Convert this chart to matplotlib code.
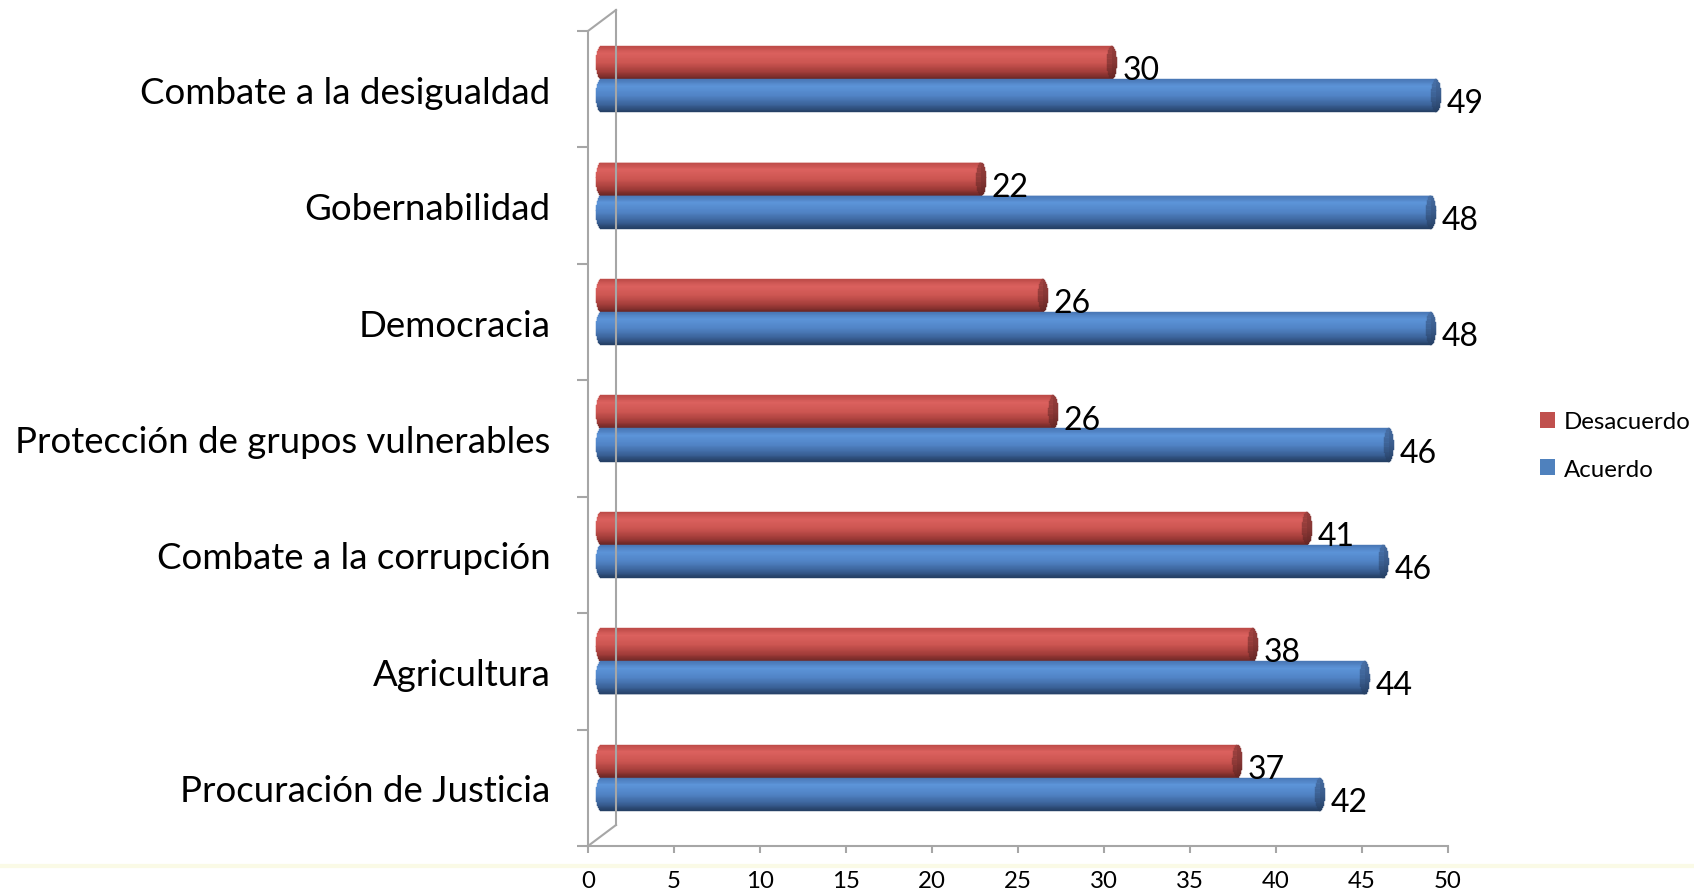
import numpy as np
import matplotlib
matplotlib.use("Agg")
import matplotlib.pyplot as plt
from matplotlib.transforms import ScaledTranslation, IdentityTransform
from matplotlib.patches import Patch
from matplotlib.lines import Line2D

plt.rcParams['font.family'] = ['Lato', 'DejaVu Sans']

# ---------------- data ----------------
categories = ["Procuración de Justicia", "Agricultura", "Combate a la corrupción",
              "Protección de grupos vulnerables", "Democracia", "Gobernabilidad",
              "Combate a la desigualdad"]
desacuerdo = [37.0, 37.9, 41.05, 26.3, 25.7, 22.1, 29.7]
acuerdo = [41.8, 44.4, 45.5, 45.8, 48.25, 48.25, 48.55]
series_names = ["Desacuerdo", "Acuerdo"]
x_ticks = [0, 5, 10, 15, 20, 25, 30, 35, 40, 45, 50]

# ---------------- style ----------------
W, H, DPI = 1694, 895, 100
legend_colors = ["#C0504D", "#4F81BD"]
red_stops = [(0.0, (188, 74, 71)), (0.22, (220, 98, 95)), (0.5, (205, 86, 82)),
             (0.8, (160, 60, 57)), (1.0, (105, 38, 36))]
blue_stops = [(0.0, (72, 118, 180)), (0.22, (93, 149, 217)), (0.5, (82, 132, 198)),
              (0.8, (58, 96, 150)), (1.0, (36, 62, 98))]
red_cap = [(0.0, (150, 62, 60)), (0.5, (135, 55, 53)), (1.0, (100, 38, 36))]
blue_cap = [(0.0, (70, 108, 160)), (0.5, (58, 92, 140)), (1.0, (38, 64, 100))]
grey = "#A6A6A6"


def grad(stops, t):
    ts = [s[0] for s in stops]
    col = [np.interp(t, ts, [s[1][k] for s in stops]) / 255 for k in range(3)]
    return tuple(col)


fig = plt.figure(figsize=(W / DPI, H / DPI), dpi=DPI)
ax = fig.add_axes([588 / W, 1 - 847 / H, (1448 - 588) / W, (847 - 32) / H])
ax.set_xlim(0, 50)
ax.set_ylim(-0.5, 6.5)
ax.set_autoscale_on(False)

px_x = (1448 - 588) / 50.0
px_y = (847 - 32) / 7.0
h = 33 / px_y
a = 5 / px_x  # semi-axis of the cylinder end ellipse in data units
shift = ScaledTranslation(13 / DPI, 10 / DPI, fig.dpi_scale_trans)
trans = ax.transData + shift

ypos = np.arange(len(categories))
N = 40
for vals, off, stops, cstops in [(desacuerdo, h / 2, red_stops, red_cap),
                                 (acuerdo, -h / 2, blue_stops, blue_cap)]:
    vals = np.asarray(vals, float)
    for i in range(N):
        t = (i + 0.5) / N
        u = 1 - 2 * t
        half = np.sqrt(max(1 - u * u, 0.0))
        yc = ypos + off + h / 2 - t * h
        left = -a * half
        col = grad(stops, t)
        bars = ax.barh(yc, vals - left, height=h / N * 1.02, left=left,
                       color=col, edgecolor=col, linewidth=0.3)
        for r in bars:
            r.set_transform(trans)
        ccol = grad(cstops, t)
        caps = ax.barh(yc, np.full(len(vals), 2 * a * half), height=h / N * 1.02,
                       left=vals - a * half, color=ccol, edgecolor=ccol, linewidth=0.3)
        for r in caps:
            r.set_transform(trans)
    for y, v in zip(ypos, vals):
        ax.annotate(f"{v:.0f}", xy=(v, y + off), xycoords="data",
                    xytext=(17.0, -4.7), textcoords="offset points",
                    ha="left", va="baseline", fontsize=23, color="black")

# ---------------- axes styling ----------------
for s in ["top", "right"]:
    ax.spines[s].set_visible(False)
for s in ["left", "bottom"]:
    ax.spines[s].set_color(grey)
    ax.spines[s].set_linewidth(1.5)

ax.set_yticks(ypos)
ax.set_yticklabels(categories, fontsize=26.4)
ax.set_yticks(np.arange(-0.5, 7.0, 1.0), minor=True)
ax.tick_params(axis="y", which="major", length=0, pad=27)
ax.tick_params(axis="y", which="minor", length=8, width=1.5, color=grey, direction="out")
ax.set_xticks(x_ticks)
ax.set_xticklabels([str(x) for x in x_ticks], fontsize=17.3)
ax.tick_params(axis="x", which="major", length=5, width=1.5, color=grey, pad=12)

# back wall of the 3-D frame
fig.canvas.draw()
p_top = ax.transAxes.transform((0, 1))
p_bot = ax.transAxes.transform((0, 0))
d = np.array([28, 21])
for xs, ys in [([p_top[0], p_top[0] + d[0]], [p_top[1], p_top[1] + d[1]]),
               ([p_bot[0], p_bot[0] + d[0]], [p_bot[1], p_bot[1] + d[1]]),
               ([p_top[0] + d[0], p_bot[0] + d[0]], [p_top[1] + d[1], p_bot[1] + d[1]])]:
    fig.add_artist(Line2D(xs, ys, transform=IdentityTransform(), color=grey, lw=1.5,
                          zorder=0.5))

# faint band under the axis
fig.add_artist(Line2D([0, 1], [1 - 867 / H] * 2, transform=fig.transFigure,
                      color="#fafae6", lw=3, zorder=0))

# legend
handles = [Patch(facecolor=c, edgecolor="none") for c in legend_colors]
fig.legend(handles, series_names, loc="center left",
           bbox_to_anchor=(1540 / W, 1 - 446.5 / H), frameon=False, fontsize=17.3,
           handlelength=0.64, handleheight=0.64, handletextpad=0.35,
           labelspacing=1.1, borderpad=0, borderaxespad=0)

fig.savefig("out.png", dpi=DPI, facecolor="white")
